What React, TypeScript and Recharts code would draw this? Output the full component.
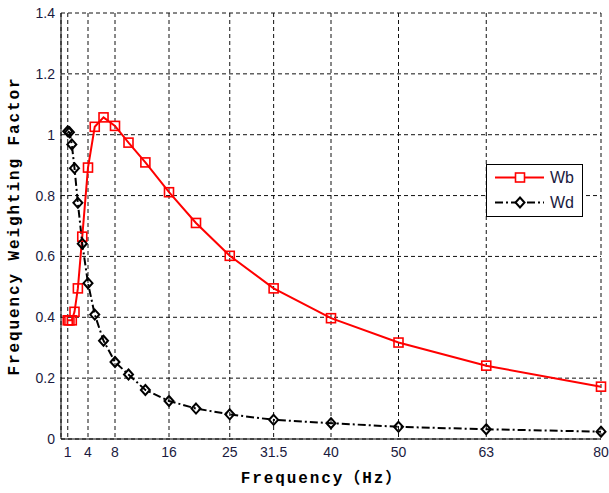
import { LineChart, Line, XAxis, YAxis, CartesianGrid, Legend } from "recharts";

const freqs = [1, 1.25, 1.6, 2, 2.5, 3.15, 4, 5, 6.3, 8, 10, 12.5, 16, 20, 25, 31.5, 40, 50, 63, 80];
const wbValues = [0.39, 0.39, 0.39, 0.418, 0.495, 0.665, 0.892, 1.026, 1.057, 1.029, 0.974, 0.909, 0.811, 0.71, 0.602, 0.495, 0.397, 0.317, 0.241, 0.172];
const wdValues = [1.011, 1.008, 0.968, 0.89, 0.776, 0.642, 0.512, 0.409, 0.323, 0.253, 0.212, 0.161, 0.125, 0.1, 0.081, 0.063, 0.052, 0.04, 0.032, 0.024];
const xTicks = [1, 4, 8, 16, 25, 31.5, 40, 50, 63, 80];
const yTicks = [0, 0.2, 0.4, 0.6, 0.8, 1, 1.2, 1.4];

const data = freqs.map((f, i) => ({ f, wb: wbValues[i], wd: wdValues[i] }));

const tickStyle = { fontSize: 14, fill: "#1a1a40", fontFamily: "Liberation Sans, Arial, sans-serif" };
const labelFont = {
  fontFamily: "'Liberation Mono', 'Noto Sans CJK SC', monospace",
  fontWeight: 700,
  fontSize: 16,
  letterSpacing: 1.9,
  fill: "#000",
};

const SquareDot = (props: any) => {
  const { cx, cy, index } = props;
  if (cx == null || cy == null) return null;
  return (
    <rect key={`sq-${index}`} x={cx - 4.5} y={cy - 4.5} width={9} height={9} fill="none" stroke="#ff0000" strokeWidth={1.6} />
  );
};

const DiamondDot = (props: any) => {
  const { cx, cy, index } = props;
  if (cx == null || cy == null) return null;
  return (
    <polygon
      key={`dm-${index}`}
      points={`${cx},${cy - 5} ${cx + 4.5},${cy} ${cx},${cy + 5} ${cx - 4.5},${cy}`}
      fill="none"
      stroke="#000"
      strokeWidth={2}
    />
  );
};

const LegendBox = () => (
  <div style={{ width: 97, height: 53, border: "1px solid #000", background: "#fff", boxSizing: "border-box" }}>
    <svg width={95} height={51} style={{ display: "block" }}>
      <line x1={8} x2={57} y1={12.5} y2={12.5} stroke="#ff0000" strokeWidth={2} />
      <rect x={28.5} y={8} width={9} height={9} fill="#fff" stroke="#ff0000" strokeWidth={1.6} />
      <text x={63} y={12.5} dominantBaseline="central" fontSize={16} fill="#1a1a40" fontFamily="Liberation Sans, Arial, sans-serif">
        Wb
      </text>
      <line x1={8} x2={57} y1={37.5} y2={37.5} stroke="#000" strokeWidth={2} strokeDasharray="8 3 2 3" />
      <polygon points="33,32.5 37.5,37.5 33,42.5 28.5,37.5" fill="#fff" stroke="#000" strokeWidth={2} />
      <text x={63} y={37.5} dominantBaseline="central" fontSize={16} fill="#1a1a40" fontFamily="Liberation Sans, Arial, sans-serif">
        Wd
      </text>
    </svg>
  </div>
);

export default function App() {
  return (
    <div style={{ width: 609, height: 493, background: "#fff" }}>
      <style>{`body{margin:0;background:#fff}`}</style>
      <LineChart width={609} height={493} data={data} margin={{ top: 13, right: 8, bottom: 0, left: 0 }}>
        <CartesianGrid stroke="#111" strokeDasharray="4 3" strokeWidth={1} />
        <XAxis
          dataKey="f"
          type="number"
          domain={[0, 80]}
          ticks={xTicks}
          height={54}
          tickLine={false}
          tickSize={0}
          tickMargin={8}
          tick={tickStyle}
          axisLine={{ stroke: "#000", strokeWidth: 1 }}
          label={{
            position: "insideBottom",
            content: ({ viewBox }: any) => (
              <text
                x={viewBox.x + viewBox.width / 2 - 9}
                y={viewBox.y + 44}
                textAnchor="middle"
                style={labelFont}
              >
                Frequency（Hz）
              </text>
            ),
          }}
        />
        <XAxis xAxisId="top" orientation="top" type="number" domain={[0, 80]} height={0} tick={false} tickLine={false} axisLine={{ stroke: "#000" }} />
        <YAxis
          type="number"
          domain={[0, 1.4]}
          ticks={yTicks}
          width={61}
          tickLine={false}
          tickSize={0}
          tickMargin={6}
          tick={tickStyle}
          tickFormatter={(v: number) => String(v)}
          axisLine={{ stroke: "#000", strokeWidth: 1 }}
          label={{
            position: "insideLeft",
            content: ({ viewBox }: any) => {
              const cx = 15;
              const cy = viewBox.y + viewBox.height / 2;
              return (
                <text x={cx} y={cy} transform={`rotate(-90 ${cx} ${cy})`} textAnchor="middle" dominantBaseline="central" style={labelFont}>
                  Frequency Weighting Factor
                </text>
              );
            },
          }}
        />
        <YAxis yAxisId="right" orientation="right" type="number" domain={[0, 1.4]} width={0} tick={false} tickLine={false} axisLine={{ stroke: "#000" }} />
        <Legend
          verticalAlign="middle"
          align="center"
          layout="horizontal"
          content={() => <LegendBox />}
          wrapperStyle={{ left: 486, top: 164, width: 97, height: 53 }}
        />
        <Line
          type="linear"
          dataKey="wb"
          name="Wb"
          stroke="#ff0000"
          strokeWidth={2}
          dot={SquareDot}
          activeDot={false}
          isAnimationActive={false}
        />
        <Line
          type="linear"
          dataKey="wd"
          name="Wd"
          stroke="#000"
          strokeWidth={2}
          strokeDasharray="8 3 2 3"
          dot={DiamondDot}
          activeDot={false}
          isAnimationActive={false}
        />
      </LineChart>
    </div>
  );
}
